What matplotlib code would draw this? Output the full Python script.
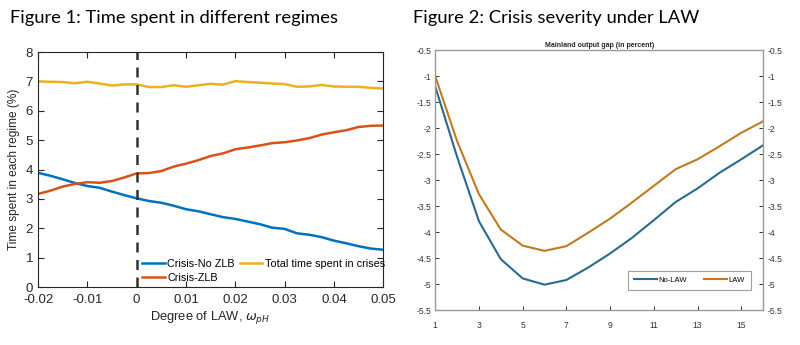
import numpy as np
import matplotlib
matplotlib.use('Agg')
import matplotlib.pyplot as plt

plt.rcParams['font.family'] = ['Liberation Sans', 'DejaVu Sans']

# figure 1: share of time in each regime vs degree of LAW
law = np.arange(-0.02, 0.05001, 0.0025)
crisis_no_zlb = [3.89, 3.79, 3.67, 3.54, 3.44, 3.38, 3.25, 3.13, 3.02, 2.93,
                 2.87, 2.77, 2.65, 2.58, 2.48, 2.38, 2.32, 2.23, 2.14, 2.02,
                 1.98, 1.83, 1.78, 1.70, 1.58, 1.49, 1.39, 1.31, 1.27]
crisis_zlb = [3.17, 3.28, 3.42, 3.51, 3.57, 3.55, 3.61, 3.73, 3.87, 3.88,
              3.95, 4.10, 4.20, 4.32, 4.46, 4.55, 4.69, 4.75, 4.82, 4.90,
              4.93, 4.99, 5.07, 5.19, 5.27, 5.34, 5.45, 5.49, 5.50]
total_crisis = [7.00, 6.99, 6.98, 6.94, 6.99, 6.93, 6.86, 6.90, 6.90, 6.81,
                6.81, 6.87, 6.82, 6.87, 6.92, 6.89, 7.01, 6.98, 6.96, 6.93,
                6.91, 6.82, 6.83, 6.88, 6.83, 6.82, 6.82, 6.78, 6.76]

# figure 2: mainland output gap after a crisis
quarters = np.arange(1, 17)
gap_no_law = [-1.20, -2.55, -3.79, -4.52, -4.89, -5.01, -4.92, -4.68,
              -4.41, -4.11, -3.77, -3.42, -3.16, -2.86, -2.60, -2.33]
gap_law = [-1.00, -2.25, -3.27, -3.95, -4.26, -4.36, -4.27, -4.01,
           -3.74, -3.43, -3.11, -2.79, -2.60, -2.35, -2.09, -1.87]

fig = plt.figure(figsize=(8, 3.45), dpi=100)

fig.text(0.012, 0.948, 'Figure 1: Time spent in different regimes',
         fontsize=13.2, family=['Lato', 'DejaVu Sans'], va='center', ha='left')
fig.text(0.516, 0.948, 'Figure 2: Crisis severity under LAW',
         fontsize=13.2, family=['Lato', 'DejaVu Sans'], va='center', ha='left')

# ---- left panel
ax1 = fig.add_axes([0.0475, 0.168, 0.4315, 0.681])
ax1.plot(law, crisis_no_zlb, color='#0072BD', lw=1.8, label='Crisis-No ZLB')
ax1.plot(law, crisis_zlb, color='#D95319', lw=1.8, label='Crisis-ZLB')
ax1.plot(law, total_crisis, color='#EDB120', lw=1.8,
         label='Total time spent in crises')
ax1.axvline(0, color='#333333', lw=1.8, ls=(0, (4, 3)))
ax1.set_xlim(-0.02, 0.05)
ax1.set_ylim(0, 8)
ax1.set_xticks(np.arange(-0.02, 0.0501, 0.01))
ax1.set_xticklabels(['-0.02', '-0.01', '0', '0.01', '0.02', '0.03', '0.04', '0.05'])
ax1.set_yticks(range(0, 9))
ax1.tick_params(direction='in', top=True, right=True, length=4,
                labelsize=9.5, colors='#262626', width=0.8)
ax1.tick_params(axis='x', pad=5)
for s in ax1.spines.values():
    s.set_color('#262626')
    s.set_linewidth(0.8)
ax1.set_xlabel('Degree of LAW, $\\omega_{pH}$', fontsize=9.3, color='#262626',
               labelpad=2)
ax1.set_ylabel('Time spent in each regime (%)', fontsize=8.6, color='#262626',
               labelpad=4)
ax1.legend(ncol=2, loc='lower left', bbox_to_anchor=(0.28, -0.015),
           frameon=False, fontsize=7.8, handlelength=2.1, handletextpad=0.2,
           columnspacing=0.45, labelspacing=0.35, borderpad=0.2)

# ---- right panel
ax2 = fig.add_axes([0.544, 0.101, 0.41, 0.754])
ax2.plot(quarters, gap_no_law, color='#2a6a8f', lw=1.5, label='No-LAW')
ax2.plot(quarters, gap_law, color='#c27a21', lw=1.5, label='LAW')
ax2.set_xlim(1, 16)
ax2.set_ylim(-5.5, -0.5)
ax2.set_xticks(range(1, 16, 2))
ax2.set_yticks(np.arange(-5.5, -0.49, 0.5))
ax2.set_yticklabels(['-5.5', '-5', '-4.5', '-4', '-3.5', '-3', '-2.5', '-2',
                     '-1.5', '-1', '-0.5'])
ax2.tick_params(direction='in', right=True, labelright=True, length=3,
                labelsize=6.2, colors='#333333', width=0.7, pad=3)
ax2.tick_params(axis='x', pad=8)
for s in ax2.spines.values():
    s.set_color('#999999')
    s.set_linewidth(1.0)
ax2.set_title('Mainland output gap (in percent)', fontsize=5,
              fontweight='bold', pad=2.5, color='#262626')
leg = ax2.legend(ncol=2, loc='lower right', bbox_to_anchor=(0.973, 0.062),
                 fontsize=5.5, handlelength=3.0, handletextpad=0.2,
                 columnspacing=2.2, borderpad=0.8, fancybox=False)
leg.get_frame().set_edgecolor('#888888')
leg.get_frame().set_linewidth(0.8)

fig.savefig('out.png', dpi=100)
